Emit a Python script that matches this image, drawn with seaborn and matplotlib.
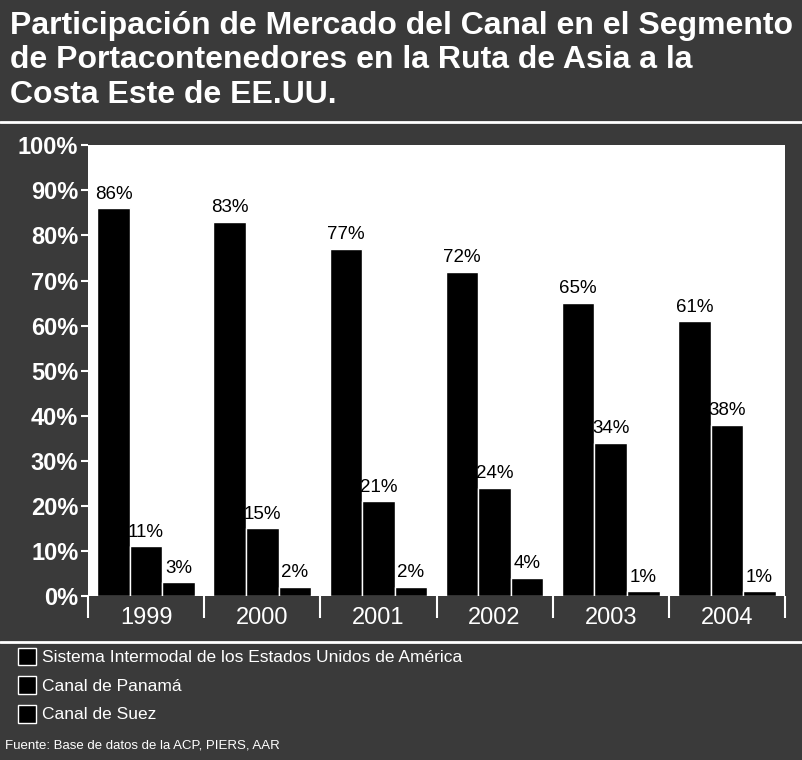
import pandas as pd
import matplotlib.pyplot as plt
import seaborn as sns

years = ["1999", "2000", "2001", "2002", "2003", "2004"]
intermodal = [86, 83, 77, 72, 65, 61]
panama = [11, 15, 21, 24, 34, 38]
suez = [3, 2, 2, 4, 1, 1]
series_names = ["Sistema Intermodal de los Estados Unidos de América",
                "Canal de Panamá", "Canal de Suez"]
y_ticks = [0, 10, 20, 30, 40, 50, 60, 70, 80, 90, 100]

title = ("Participación de Mercado del Canal en el Segmento\n"
         "de Portacontenedores en la Ruta de Asia a la\n"
         "Costa Este de EE.UU.")
source = "Fuente: Base de datos de la ACP, PIERS, AAR"

rows = []
for name, vals in zip(series_names, [intermodal, panama, suez]):
    for y, v in zip(years, vals):
        rows.append({"Año": y, "Serie": name, "Valor": v})
df = pd.DataFrame(rows)

sns.set_style("white")
plt.rcParams["font.family"] = ["Liberation Sans", "DejaVu Sans"]

bg = "#3a3a3a"
fig = plt.figure(figsize=(8.03, 7.6), dpi=100, facecolor=bg)
ax = fig.add_axes([0.1096, 0.2158, 0.868, 0.593])
ax.set_facecolor("white")

sns.barplot(data=df, x="Año", y="Valor", hue="Serie", ax=ax,
            palette=["black", "black", "black"], width=0.84,
            edgecolor="white", linewidth=1, saturation=1)

for cont, vals in zip(ax.containers, [intermodal, panama, suez]):
    ax.bar_label(cont, labels=[f"{v}%" for v in vals], padding=4,
                 fontsize=13.5, color="black")

ax.set_ylim(0, 100)
ax.set_xlim(-0.5, len(years) - 0.5)
ax.set_yticks(y_ticks)
ax.set_yticklabels([f"{t}%" for t in y_ticks], fontsize=17,
                   fontweight="bold", color="white")
ax.tick_params(axis="y", left=True, colors="white", length=5, width=1.5,
               pad=2, labelcolor="white")
ax.set_xticks(range(len(years)))
ax.set_xticklabels(years)
ax.tick_params(axis="x", which="major", bottom=True, length=0, pad=8,
               labelsize=17, labelcolor="white")
ax.set_xticks([i - 0.5 for i in range(len(years) + 1)], minor=True)
ax.tick_params(axis="x", which="minor", bottom=True, length=16, width=1.5,
               color="white")
ax.set_xlabel("")
ax.set_ylabel("")
for s in ax.spines.values():
    s.set_visible(False)

handles, labels = ax.get_legend_handles_labels()
ax.legend_.remove()
fig.legend(handles, labels, loc="upper left", bbox_to_anchor=(0.014, 0.157),
           frameon=False, fontsize=12.5, labelcolor="white",
           handlelength=1.0, handleheight=1.2, handletextpad=0.35,
           labelspacing=0.62, borderaxespad=0)

fig.text(0.012, 0.986, title, ha="left", va="top", color="white",
         fontsize=23, fontweight="bold", linespacing=1.2)
fig.add_artist(plt.Line2D([0, 1], [0.84, 0.84], color="white", lw=2,
                          transform=fig.transFigure))
fig.add_artist(plt.Line2D([0, 1], [0.155, 0.155], color="white", lw=2,
                          transform=fig.transFigure))
fig.text(0.006, 0.011, source, ha="left", va="bottom", color="white",
         fontsize=9.5)

fig.savefig("out.png", dpi=100, facecolor=bg)
